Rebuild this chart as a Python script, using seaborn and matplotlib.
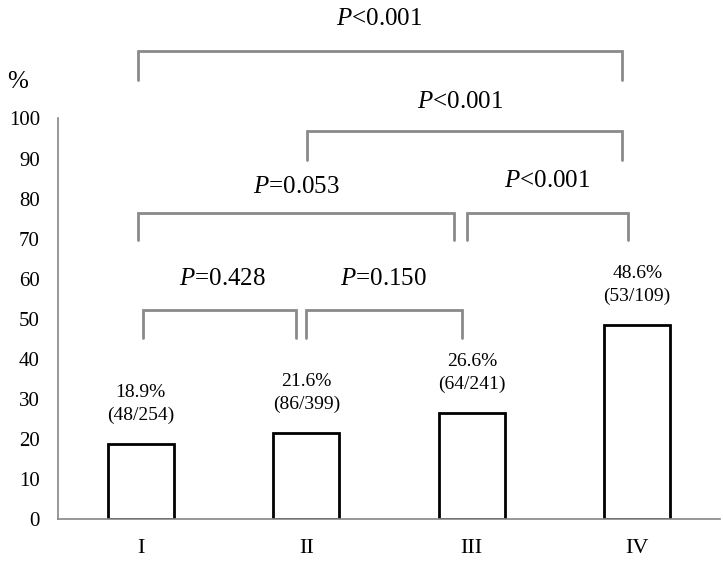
import matplotlib
matplotlib.use("Agg")
import matplotlib.pyplot as plt
import seaborn as sns
import pandas as pd

# ---- data ----
categories = ["I", "II", "III", "IV"]
percent = [18.9, 21.6, 26.6, 48.6]
counts = ["(48/254)", "(86/399)", "(64/241)", "(53/109)"]
p_labels = ["<0.001", "<0.001", "=0.053", "<0.001", "=0.428", "=0.150"]
y_ticks = [0, 10, 20, 30, 40, 50, 60, 70, 80, 90, 100]

sns.set_style("white")
plt.rcParams["font.family"] = ["Liberation Serif", "DejaVu Serif"]
plt.rcParams["mathtext.fontset"] = "custom"
plt.rcParams["mathtext.it"] = "Liberation Serif:italic"
plt.rcParams["mathtext.rm"] = "Liberation Serif"
plt.rcParams["text.color"] = "black"
plt.rcParams["xtick.labelcolor"] = "black"
plt.rcParams["ytick.labelcolor"] = "black"

W, H = 723, 563
fig = plt.figure(figsize=(W / 100, H / 100), dpi=100)
ax = fig.add_axes([58 / W, (H - 519.3) / H, (720 - 58) / W, (519.3 - 118.5) / H])

df = pd.DataFrame({"cat": categories, "pct": percent})
sns.barplot(data=df, x="cat", y="pct", color="white", saturation=1,
            edgecolor="black", linewidth=2, width=0.4, ax=ax)

ax.set_xlim(-0.5, 3.5)
ax.set_ylim(0, 100)
ax.set_xlabel("")
ax.set_ylabel("")

grey = "#868686"
for s in ["top", "right"]:
    ax.spines[s].set_visible(False)
for s in ["left", "bottom"]:
    ax.spines[s].set_color(grey)
    ax.spines[s].set_linewidth(1.2)
    ax.spines[s].set_zorder(5)

ax.set_yticks(y_ticks)
ax.set_yticklabels([str(v) for v in y_ticks], fontsize=15)
ax.tick_params(axis="y", direction="out", length=4.5, width=1.1, color=grey, pad=8.5)
ax.set_xticks(range(len(categories)))
ax.set_xticklabels(categories, fontsize=16)
ax.tick_params(axis="x", which="major", length=0, pad=14)
ax.set_xticks([-0.5, 0.5, 1.5, 2.5, 3.5], minor=True)
ax.tick_params(axis="x", which="minor", direction="out", length=4.5, width=1.1, color=grey)

# value labels above bars
for i, (v, c) in enumerate(zip(percent, counts)):
    ax.text(i, v + 12.7, f"{v}%", ha="center", va="center", fontsize=14)
    ax.text(i, v + 7.0, c, ha="center", va="center", fontsize=14)

# brackets: (x_left, x_right, y_top, y_bottom)
brackets = [
    (-0.018, 2.906, 116.8, 109.7),
    (1.003, 2.906, 96.8, 89.6),
    (-0.018, 1.891, 76.5, 69.7),
    (1.970, 2.943, 76.5, 69.7),
    (0.012, 0.941, 52.2, 45.3),
    (1.001, 1.940, 52.2, 45.3),
]
label_pos = [
    (1.438, 124.9),
    (1.927, 104.2),
    (0.943, 82.8),
    (2.453, 84.3),
    (0.495, 60.0),
    (1.468, 60.0),
]
for (x0, x1, yt, yb), (tx, ty), lab in zip(brackets, label_pos, p_labels):
    ax.plot([x0, x0, x1, x1], [yb, yt, yt, yb], color="#8a8a8a", lw=2.0,
            clip_on=False, solid_joinstyle="miter", zorder=3)
    ax.text(tx, ty, "$P$" + lab, ha="center", va="center", fontsize=18, clip_on=False)

fig.text(18 / W, 1 - 82 / H, "%", ha="center", va="center", fontsize=18)

fig.savefig("out.png", dpi=100)
